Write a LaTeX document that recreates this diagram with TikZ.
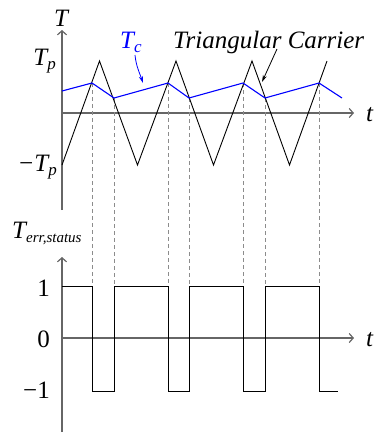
\documentclass[tikz,border=0pt]{standalone}
\usepackage{fontspec}
\setmainfont{Liberation Serif}
\usetikzlibrary{arrows.meta}
\newcommand\mysubscr[3][-4pt]{\raisebox{#1}{\fontsize{#2}{#2}\selectfont #3}}
\begin{document}
\begin{tikzpicture}[x=1pt,y=-1pt,
  lbl/.style={inner sep=0pt, font=\fontsize{25}{25}\selectfont\itshape},
  num/.style={inner sep=0pt, font=\fontsize{25}{25}\selectfont},
  axis/.style={draw=black!60, line width=1.2pt, -{Straight Barb[length=4pt,width=9pt]}},
  carrier/.style={black, line width=0.9pt},
  ctrl/.style={blue, line width=1.1pt},
  guide/.style={black!45, line width=0.7pt, dash pattern=on 4pt off 3pt},
  wave/.style={black, line width=0.9pt},
  pointer/.style={-{Stealth[length=7pt,width=4pt]}, line width=0.8pt}]
\useasboundingbox (0,0) rectangle (375,434);

% axes
\coordinate (a1b) at (62,210);
\coordinate (a1t) at (62,30);
\coordinate (h1l) at (62,113);
\coordinate (h1r) at (354,113);
\coordinate (a2b) at (62,432);
\coordinate (a2t) at (62,257);
\coordinate (h2l) at (62,338);
\coordinate (h2r) at (354,338);
\draw[axis] (a1b) -- (a1t);
\draw[axis] (h1l) -- (h1r);
\draw[axis] (a2b) -- (a2t);
\draw[axis] (h2l) -- (h2r);

% dashed guides
\foreach \x/\y in {92/83,114/98,168/83,189/98,243/83,265/98,319/83}
  \draw[guide] (\x,\y) -- (\x,286);

% triangular carrier
\draw[carrier] (62,165) -- (99.5,61) -- (137.5,165) -- (176,61) -- (213.5,165)
  -- (252,61) -- (289.5,165) -- (327,61);

% Tc
\draw[ctrl] (62,91) -- (92,83) -- (114,98) -- (168,83) -- (189,98) -- (243,83)
  -- (265,98) -- (319,83) -- (342,98);

% square wave
\draw[wave] (62,286) -- (92,286) -- (92,391) -- (114,391) -- (114,286) -- (168,286)
  -- (168,391) -- (189,391) -- (189,286) -- (243,286) -- (243,391) -- (265,391)
  -- (265,286) -- (319,286) -- (319,391) -- (338,391);

% labels
\node[lbl, anchor=base] (T) at (61,26) {T};
\node[lbl, anchor=base east] (Tp) at (56,65) {T\mysubscr{17}{p}};
\node[lbl, anchor=base east] (mTp) at (57,171) {−T\mysubscr{17}{p}};
\node[lbl, anchor=base west, text=blue] (Tc) at (120,48) {T\mysubscr{17}{c}};
\node[lbl, anchor=base west] (TC) at (173,48) {Triangular Carrier};
\node[lbl, anchor=base west] (t1) at (366,121) {t};
\node[lbl, anchor=base west] (Terr) at (12,238) {T\mysubscr{15}{err,status}};
\node[num, anchor=base east] (one) at (50,296) {1};
\node[num, anchor=base east] (zero) at (50,347) {0};
\node[num, anchor=base east] (mone) at (50,398) {−1};
\node[lbl, anchor=base west] (t2) at (366,346) {t};

% pointers
\coordinate (pc1) at (135,55);
\coordinate (pc2) at (143,83);
\coordinate (pt1) at (277,49);
\coordinate (pt2) at (262,82);
\draw[pointer, blue] (pc1) .. controls (136,66) and (140,74) .. (pc2);
\draw[pointer, black] (pt1) -- (pt2);
\end{tikzpicture}
\end{document}
